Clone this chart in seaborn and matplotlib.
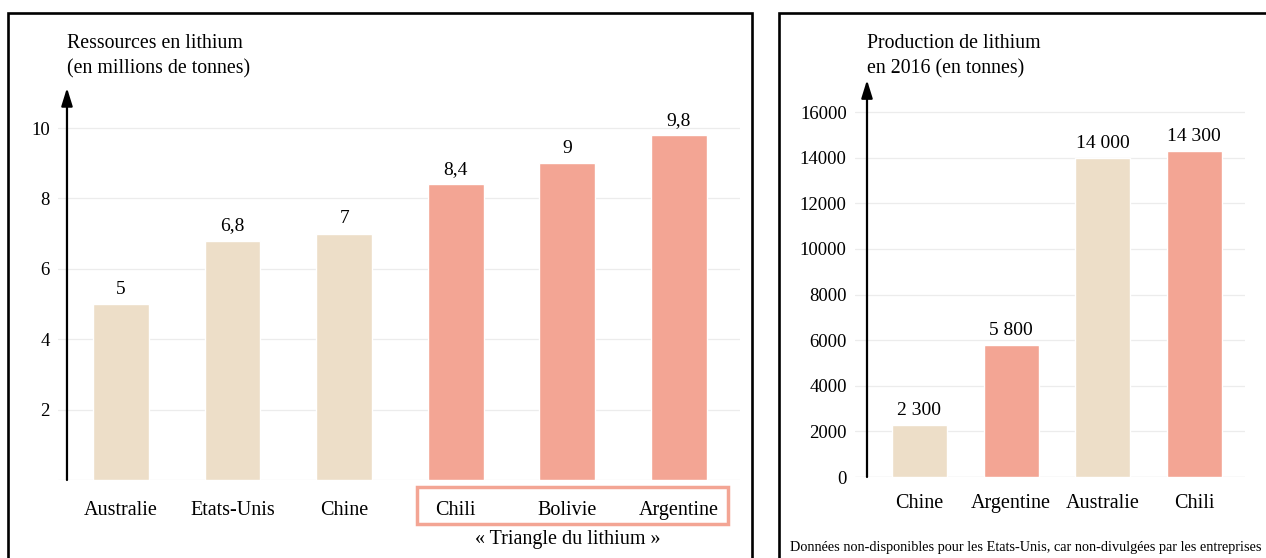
import matplotlib
matplotlib.use("Agg")
import matplotlib.pyplot as plt
import seaborn as sns
import pandas as pd
from matplotlib.patches import Rectangle

# ---- data ----
res_countries = ["Australie", "Etats-Unis", "Chine", "Chili", "Bolivie", "Argentine"]
res_values = [5, 6.8, 7, 8.4, 9, 9.8]
res_groups = ["autre", "autre", "autre", "triangle", "triangle", "triangle"]
res_yticks = [2, 4, 6, 8, 10]

prod_countries = ["Chine", "Argentine", "Australie", "Chili"]
prod_values = [2300, 5800, 14000, 14300]
prod_groups = ["autre", "triangle", "autre", "triangle"]
prod_yticks = [0, 2000, 4000, 6000, 8000, 10000, 12000, 14000, 16000]

BEIGE = "#EDDEC8"
SALMON = "#F3A594"
palette = {"autre": BEIGE, "triangle": SALMON}

sns.set_theme(style="white")
plt.rcParams["font.family"] = ["Liberation Serif", "DejaVu Serif"]
plt.rcParams["text.color"] = "black"

W, H = 1266, 558
fig = plt.figure(figsize=(W / 100, H / 100), dpi=100)


def px_axes(l, t, r, b):
    return fig.add_axes([l / W, 1 - b / H, (r - l) / W, (b - t) / H])


def style_axes(ax, yticks, ymax, xlim, yaxis_x, arrow_top, xpad, ypad):
    for s in ax.spines.values():
        s.set_visible(False)
    ax.set_xlim(*xlim)
    ax.set_ylim(0, ymax)
    ax.set_yticks(yticks)
    ax.yaxis.grid(True, color="#ececec", lw=0.9)
    ax.axhline(0, color="#ececec", lw=0.9, zorder=0)
    ax.set_axisbelow(True)
    ax.tick_params(axis="y", length=0, labelsize=13.5, colors="black", pad=ypad)
    ax.tick_params(axis="x", length=0, labelsize=14.5, colors="black", pad=xpad)
    ax.set_xlabel("")
    ax.set_ylabel("")
    ax.annotate("", xy=(yaxis_x, arrow_top), xytext=(yaxis_x, 0),
                xycoords="data", textcoords="data", annotation_clip=False,
                arrowprops=dict(arrowstyle="-|>,head_width=0.28,head_length=0.9",
                                color="black", lw=1.6, shrinkA=0, shrinkB=0))


# ---- left chart ----
df1 = pd.DataFrame({"pays": res_countries, "val": res_values, "grp": res_groups})
ax1 = px_axes(58, 80, 740, 480)
sns.barplot(data=df1, x="pays", y="val", hue="grp", palette=palette, width=0.5,
            dodge=False, legend=False, ax=ax1, saturation=1)
style_axes(ax1, res_yticks, 11.364, (-0.5645, 5.5466), -0.484, 11.14, 15, 6)
for i, v in enumerate(res_values):
    ax1.text(i, v + 0.18, f"{v:g}".replace(".", ","), ha="center", va="bottom",
             fontsize=14)

# ---- right chart ----
df2 = pd.DataFrame({"pays": prod_countries, "val": prod_values, "grp": prod_groups})
ax2 = px_axes(855, 75, 1245, 477)
sns.barplot(data=df2, x="pays", y="val", hue="grp", palette=palette, width=0.6,
            dodge=False, legend=False, ax=ax2, saturation=1)
style_axes(ax2, prod_yticks, 17622, (-0.704, 3.553), -0.573, 17403, 12, 6)
for i, v in enumerate(prod_values):
    ax2.text(i, v + 250, f"{v:,}".replace(",", " "), ha="center", va="bottom",
             fontsize=14)

# ---- axis titles ----
fig.text(67 / W, 1 - 34 / H, "Ressources en lithium\n(en millions de tonnes)",
         ha="left", va="top", fontsize=14.3, linespacing=1.45)
fig.text(867 / W, 1 - 34 / H, "Production de lithium\nen 2016 (en tonnes)",
         ha="left", va="top", fontsize=14.3, linespacing=1.45)

# ---- panel frames ----
fig.patches.append(Rectangle((8 / W, -0.05), (752 - 8) / W, 1.05 - 13 / H,
                             transform=fig.transFigure, fill=False,
                             edgecolor="black", lw=1.9, zorder=0))
fig.patches.append(Rectangle((779 / W, -0.05), 0.5, 1.05 - 13 / H,
                             transform=fig.transFigure, fill=False,
                             edgecolor="black", lw=1.9, zorder=0))

# ---- triangle box ----
fig.patches.append(Rectangle((417 / W, 1 - 524 / H), (728 - 417) / W, (524 - 487) / H,
                             transform=fig.transFigure, fill=False,
                             edgecolor=SALMON, lw=2.5))
ax1.text(4, -1.68, "« Triangle du lithium »", ha="center", va="center",
         fontsize=14.5, clip_on=False)

fig.text(1262 / W, 1 - 548 / H,
         "Données non-disponibles pour les Etats-Unis, car non-divulgées par les entreprises",
         ha="right", va="center", fontsize=10.3)

fig.savefig("out.png", dpi=100)
